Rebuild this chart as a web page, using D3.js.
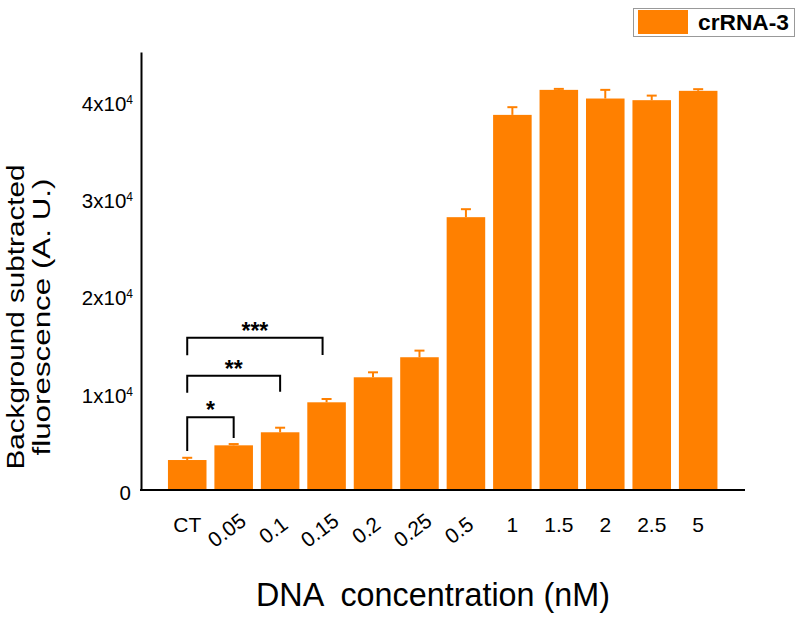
<!DOCTYPE html>
<html>
<head>
<meta charset="utf-8">
<script src="https://cdn.jsdelivr.net/npm/d3@7"></script>
<style>
  html, body { margin: 0; padding: 0; background: #fff; }
  svg { display: block; font-family: "Liberation Sans", Arial, sans-serif; }
</style>
</head>
<body>
<svg id="chart" width="800" height="621"></svg>
<script>
// ---- data ----
const categories = ["CT", "0.05", "0.1", "0.15", "0.2", "0.25", "0.5", "1", "1.5", "2", "2.5", "5"];
const means  = [3080, 4590, 5930, 9010, 11580, 13640, 28030, 38540, 41110, 40220, 40050, 41010];
const errors = [230, 130, 470, 340, 510, 680, 820, 790, 100, 890, 470, 170];
const rotatedLabels = ["0.05", "0.1", "0.15", "0.2", "0.25", "0.5"];
const yTicks = [0, 10000, 20000, 30000, 40000];
const yTickMantissa = ["0", "1", "2", "3", "4"];
const seriesName = "crRNA-3";
// significance brackets
const bracketFrom   = ["CT", "CT", "CT"];
const bracketTo     = ["0.05", "0.1", "0.15"];
const bracketTop    = [7470, 11743, 15648];
const bracketLeftLow  = [4007, 9997, 13840];
const bracketRightLow = [5343, 10100, 13870];
const bracketLabels = ["*", "**", "***"];

const orange = "#ff8000";

const svg = d3.select("#chart");
svg.append("rect").attr("width", 800).attr("height", 621).attr("fill", "#fff");

const x = d3.scaleBand().domain(categories).range([164, 721.4]).paddingInner(0.17).paddingOuter(0.085);
const y = d3.scaleLinear().domain([0, 45000]).range([490, 52]);

// bars
svg.append("g").selectAll("rect").data(categories).join("rect")
  .attr("x", d => x(d))
  .attr("width", x.bandwidth())
  .attr("y", (d, i) => y(means[i]))
  .attr("height", (d, i) => y(0) - y(means[i]))
  .attr("fill", orange);

// error bars
const eg = svg.append("g").attr("stroke", orange).attr("stroke-width", 2);
categories.forEach((c, i) => {
  const cx = x(c) + x.bandwidth() / 2;
  eg.append("line").attr("x1", cx).attr("x2", cx)
    .attr("y1", y(means[i])).attr("y2", y(means[i] + errors[i]));
  eg.append("line").attr("x1", cx - 5).attr("x2", cx + 5)
    .attr("y1", y(means[i] + errors[i])).attr("y2", y(means[i] + errors[i]));
});

// y axis
const yAxis = svg.append("g").attr("transform", "translate(141,0)")
  .call(d3.axisLeft(y).tickValues(yTicks).tickSize(0).tickPadding(10).tickFormat(""));
yAxis.select(".domain").attr("stroke", "#000").attr("stroke-width", 2);
yAxis.selectAll(".tick text").remove();
yAxis.selectAll(".tick").each(function(d, i) {
  const t = d3.select(this).append("text")
    .attr("x", d === 0 ? -10 : -8).attr("y", 3).attr("dy", "0.32em")
    .attr("text-anchor", "end").attr("fill", "#000")
    .style("font-size", "20.5px");
  if (d === 0) {
    t.text("0");
  } else {
    t.append("tspan").text(yTickMantissa[i] + "x10");
    t.append("tspan").attr("dy", -7).style("font-size", "12px").text("4");
  }
});

// x axis line
svg.append("line").attr("x1", 140).attr("x2", 745).attr("y1", 490).attr("y2", 490)
  .attr("stroke", "#000").attr("stroke-width", 2);

// x tick labels via axis
const xAxis = svg.append("g").attr("transform", "translate(0,490)")
  .call(d3.axisBottom(x).tickSize(0).tickPadding(0));
xAxis.select(".domain").remove();
xAxis.selectAll(".tick text")
  .attr("fill", "#000").style("font-size", "21px")
  .attr("dy", null)
  .each(function(d) {
    const t = d3.select(this);
    if (rotatedLabels.includes(d)) {
      t.attr("text-anchor", "middle").attr("y", 0)
       .attr("transform", "translate(-7,40) rotate(-37)")
       .attr("dominant-baseline", "central");
    } else {
      t.attr("text-anchor", "middle").attr("y", 41.5);
    }
  });

// significance brackets
const bg = svg.append("g");
bracketLabels.forEach((lab, i) => {
  const x1 = x(bracketFrom[i]) + x.bandwidth() / 2;
  const x2 = x(bracketTo[i]) + x.bandwidth() / 2 - (i === 2 ? 4 : 0);
  bg.append("path")
    .attr("d", `M${x1},${y(bracketLeftLow[i])}V${y(bracketTop[i])}H${x2}V${y(bracketRightLow[i])}`)
    .attr("fill", "none").attr("stroke", "#000").attr("stroke-width", 2);
  bg.append("text").attr("x", (x1 + x2) / 2).attr("y", y(bracketTop[i]) + 1)
    .attr("text-anchor", "middle").style("font-size", "23px").style("font-weight", "bold")
    .attr("fill", "#000").text(lab);
});

// legend
const lg = svg.append("g");
lg.append("rect").attr("x", 633.5).attr("y", 8.5).attr("width", 161).attr("height", 28)
  .attr("fill", "#fff").attr("stroke", "#999").attr("stroke-width", 1);
lg.append("rect").attr("x", 638).attr("y", 10).attr("width", 50).attr("height", 24).attr("fill", orange);
lg.append("text").attr("x", 698).attr("y", 30).style("font-size", "22px").style("font-weight", "bold")
  .attr("fill", "#000").attr("textLength", 91).attr("lengthAdjust", "spacingAndGlyphs").text(seriesName);

// axis titles
svg.append("text").attr("x", 433).attr("y", 606).attr("text-anchor", "middle")
  .style("font-size", "33px").style("white-space", "pre").attr("fill", "#000")
  .attr("textLength", 354).attr("lengthAdjust", "spacingAndGlyphs")
  .text("DNA  concentration (nM)");

const yl = svg.append("text").attr("transform", "translate(0,317) rotate(-90)")
  .attr("text-anchor", "middle").style("font-size", "23px").attr("fill", "#000");
yl.append("tspan").attr("x", 0).attr("y", 24)
  .attr("textLength", 305).attr("lengthAdjust", "spacingAndGlyphs").text("Background subtracted");
yl.append("tspan").attr("x", 0).attr("y", 50)
  .attr("textLength", 277).attr("lengthAdjust", "spacingAndGlyphs").text("fluorescence (A. U.)");
</script>
</body>
</html>
